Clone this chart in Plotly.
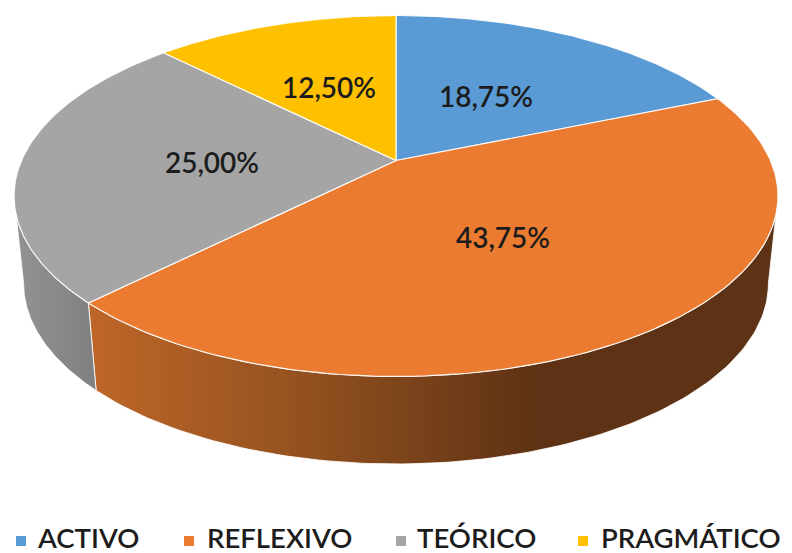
import numpy as np
import plotly.graph_objects as go

categories = ["ACTIVO", "REFLEXIVO", "TEÓRICO", "PRAGMÁTICO"]
shares = [18.75, 43.75, 25.00, 12.50]
value_labels = ["18,75%", "43,75%", "25,00%", "12,50%"]
colors = ["#5B9BD5", "#EA7B30", "#A5A5A5", "#FFC000"]

# Pie projection (perspective view of a disc) in pixel-sized axis units
CX, CY, A, B, K = 396, 160.5, 374.5, 173.5, 0.1967
BOT_CY, BOT_SX, BOT_SY = 248, 0.975, 1.0
SIL = np.degrees(np.arccos(-K))  # silhouette angle

def top(theta):
    t = np.radians(theta)
    u, v = np.sin(t), -np.cos(t)
    d = 1 - K * v
    return CX + A * u / d, CY + B * v / d

def bottom(theta):
    t = np.radians(theta)
    u, v = np.sin(t), -np.cos(t)
    d = 1 - K * v
    return CX + BOT_SX * A * u / d, BOT_CY + BOT_SY * B * v / d

edges = np.concatenate([[0], np.cumsum(shares)]) * 3.6
fig = go.Figure()

wall_gradients = {
    1: (92, 535, [[0, "#BE6628"], [0.5, "#91501F"], [1, "#5E3214"]]),
    2: (17, 97, [[0, "#929292"], [1, "#808080"]]),
}
for i, (sx, ex, scale) in wall_gradients.items():
    a0 = max(edges[i], SIL)
    a1 = min(edges[i + 1], 360 - SIL)
    th = np.linspace(a0, a1, 120)
    tx, ty = top(th)
    bx, by = bottom(th[::-1])
    fig.add_trace(go.Scatter(
        x=np.r_[tx, bx, tx[0]], y=np.r_[ty, by, ty[0]], mode="lines", fill="toself",
        line=dict(color="rgba(255,255,255,0.85)", width=1),
        fillgradient=dict(type="horizontal", colorscale=scale, start=sx, stop=ex),
        hoverinfo="skip", showlegend=False))

for i, cat in enumerate(categories):
    th = np.linspace(edges[i], edges[i + 1], 150)
    x, y = top(th)
    fig.add_trace(go.Scatter(
        x=np.r_[CX, x, CX], y=np.r_[CY, y, CY], mode="lines", fill="toself",
        fillcolor=colors[i], line=dict(color="rgba(255,255,255,0.9)", width=1.2),
        name=cat, hoverinfo="name", showlegend=False))

label_x = [486, 503, 212, 329]
label_y = [100, 241, 166, 91]
fig.add_trace(go.Scatter(
    x=label_x, y=label_y, mode="text", text=value_labels,
    textfont=dict(family="Lato", size=28, color="#1c1c1c", weight=600),
    hoverinfo="skip", showlegend=False))

swatch_x = [21, 189, 401, 583]
legend_text_x = [38, 207, 417, 601]
for i, cat in enumerate(categories):
    fig.add_trace(go.Scatter(
        x=[swatch_x[i]], y=[541], mode="markers",
        marker=dict(symbol="square", size=10, color=colors[i]),
        hoverinfo="skip", showlegend=False, cliponaxis=False))
    fig.add_trace(go.Scatter(
        x=[legend_text_x[i]], y=[541], mode="text", text=[cat],
        textposition="middle right",
        textfont=dict(family="Lato", size=27.5, color="#1c1c1c", weight=600),
        hoverinfo="skip", showlegend=False, cliponaxis=False))

fig.update_layout(
    width=792, height=553, margin=dict(l=0, r=0, t=0, b=0),
    paper_bgcolor="white", plot_bgcolor="white", showlegend=False,
    xaxis=dict(range=[0, 792], visible=False, fixedrange=True),
    yaxis=dict(range=[553, 0], visible=False, fixedrange=True),
)
fig.write_html("out.html", config={"displayModeBar": False},
               post_script="document.body.style.margin='0';document.body.style.overflow='hidden';")
